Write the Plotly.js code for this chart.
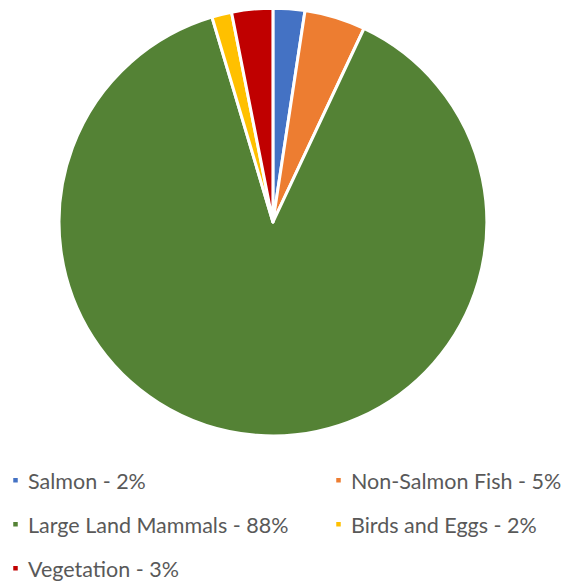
<!DOCTYPE html>
<html>
<head>
<meta charset="utf-8">
<script src="https://cdn.plot.ly/plotly-3.0.1.min.js"></script>
<style>
html, body { margin: 0; padding: 0; background: #ffffff; }
#chart { width: 561px; height: 582px; }
.legendpoints path.legendpie { transform: translate(27.5px, 0px) scale(0.5); }
</style>
</head>
<body>
<div id="chart"></div>
<script>
// Data (slice share in percent, clockwise from 12 o'clock)
var categories = ["Salmon", "Non-Salmon Fish", "Large Land Mammals", "Birds and Eggs", "Vegetation"];
var legendLabels = ["Salmon - 2%", "Non-Salmon Fish - 5%", "Large Land Mammals - 88%", "Birds and Eggs - 2%", "Vegetation - 3%"];
var values = [2.4, 4.6, 88.4, 1.5, 3.1];
var colors = ["#4472C4", "#ED7D31", "#548235", "#FFC000", "#C00000"];

var trace = {
  type: "pie",
  labels: legendLabels,
  values: values,
  sort: false,
  direction: "clockwise",
  rotation: 0,
  textinfo: "none",
  hoverinfo: "label+percent",
  marker: { colors: colors, line: { color: "#ffffff", width: 3 } },
  domain: { x: [0.105, 0.868], y: [0.251, 0.986] }
};

var layout = {
  width: 561,
  height: 582,
  margin: { l: 0, r: 0, t: 0, b: 0 },
  paper_bgcolor: "#ffffff",
  showlegend: true,
  legend: {
    orientation: "h",
    x: 0,
    xanchor: "left",
    y: 0.21,
    yanchor: "top",
    indentation: -12,
    entrywidth: 220,
    entrywidthmode: "pixels",
    font: { family: "Lato, 'Liberation Sans', sans-serif", size: 21.5, color: "#595959" },
    bgcolor: "rgba(0,0,0,0)"
  }
};

// legend grid: two columns, rows spaced as in the reference
var colStep = 323;
var rowStep = 44;

Plotly.newPlot("chart", [trace], layout, { displayModeBar: false, staticPlot: true }).then(function (gd) {
  var leg = gd.querySelector("g.legend");
  if (!leg) return;
  leg.querySelectorAll("[clip-path]").forEach(function (el) { el.removeAttribute("clip-path"); });
  var items = leg.querySelectorAll("g.traces");
  if (!items.length) return;
  var m = /translate\(\s*([-\d.]+)[ ,]+([-\d.]+)/.exec(items[0].getAttribute("transform") || "");
  var x0 = m ? parseFloat(m[1]) : 0, y0 = m ? parseFloat(m[2]) : 0;
  items.forEach(function (el, i) {
    var col = i % 2, row = Math.floor(i / 2);
    el.setAttribute("transform", "translate(" + (x0 + col * colStep) + "," + (y0 + row * rowStep) + ")");
  });
});
</script>
</body>
</html>
